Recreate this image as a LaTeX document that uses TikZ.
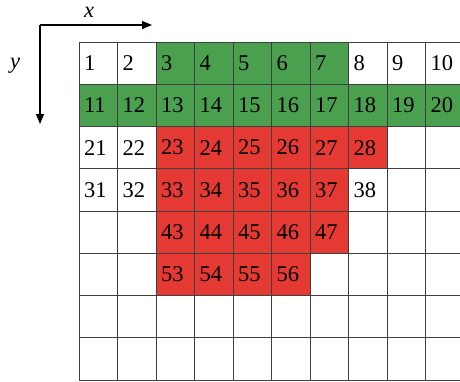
\documentclass[tikz,border=0pt]{standalone}
\usepackage{fontspec}
\setmainfont{Liberation Serif}
\usetikzlibrary{arrows.meta}
\definecolor{cellgreen}{HTML}{4AA04F}
\definecolor{cellred}{HTML}{E53A33}

\begin{document}
\begin{tikzpicture}[
  x=1pt, y=-1pt,
  font=\fontsize{22.5}{24}\selectfont,
  >={Triangle[length=10pt,width=8pt]},
  cell/.style={draw=black!75, line width=0.8pt, anchor=north west, inner sep=0pt, outer sep=0pt,
    inner xsep=5pt, text width=28.5pt, align=left, minimum height=42.25pt},
  g/.style={cell, fill=cellgreen},
  r/.style={cell, fill=cellred},
  w/.style={cell, fill=white},
  axis/.style={->, line width=1.2pt, draw=black}
]
  \useasboundingbox (0,0) rectangle (460,381);
  \clip (0,0) rectangle (460,381);

  % axes
  \coordinate (origin) at (40,25);
  \coordinate (xend) at (152,25);
  \coordinate (yend) at (40,124);
  \draw[axis] (origin) -- (xend);
  \draw[axis] (origin) -- (yend);
  \node (xlabel) at (89,12) {\textit{x}};
  \node (ylabel) at (15,66) {\textit{y}};

  % grid of cells
  \foreach [count=\r from 0] \row in {
    {w/1,w/2,g/3,g/4,g/5,g/6,g/7,w/8,w/9,w/10},
    {g/11,g/12,g/13,g/14,g/15,g/16,g/17,g/18,g/19,g/20},
    {w/21,w/22,r/23,r/24,r/25,r/26,r/27,r/28,w/,w/},
    {w/31,w/32,r/33,r/34,r/35,r/36,r/37,w/38,w/,w/},
    {w/,w/,r/43,r/44,r/45,r/46,r/47,w/,w/,w/},
    {w/,w/,r/53,r/54,r/55,r/56,w/,w/,w/,w/},
    {w/,w/,w/,w/,w/,w/,w/,w/,w/,w/},
    {w/,w/,w/,w/,w/,w/,w/,w/,w/,w/}} {
    \foreach [count=\c from 0] \s/\t in \row {
      \node[\s] (cell-\r-\c) at (79+38.5*\c, 42+42.25*\r) {\t};
    }
  }
\end{tikzpicture}
\end{document}
